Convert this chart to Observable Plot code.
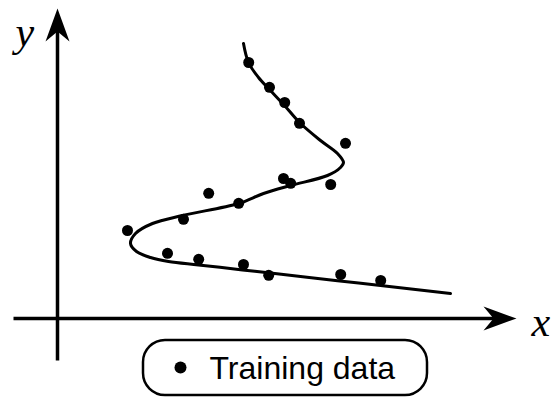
<!DOCTYPE html>
<html>
<head>
<meta charset="utf-8">
<script src="https://cdn.jsdelivr.net/npm/d3@7"></script>
<script src="https://cdn.jsdelivr.net/npm/@observablehq/plot@0.6"></script>
<style>
  body { margin: 0; background: #fff; }
</style>
</head>
<body>
<div id="chart"></div>
<script>
// Fitted curve (x as a multi-valued function of y), traced in order along the path
const curveX = [4.65, 4.775, 5.025, 5.3, 5.675, 6.05, 6.575, 7.0, 7.15, 7.075, 6.75, 5.825, 5.15, 4.525,
                3.125, 2.375, 1.95, 1.825, 1.975, 2.325, 2.775, 3.525, 4.625, 5.325, 7.0, 8.075, 9.825];
const curveY = [6.875, 6.4, 6.025, 5.725, 5.325, 4.9, 4.45, 4.125, 3.9, 3.775, 3.575, 3.325, 3.125, 2.875,
                2.575, 2.375, 2.125, 1.875, 1.675, 1.525, 1.425, 1.34, 1.215, 1.135, 0.945, 0.825, 0.625];

// Training data samples
const trainX = [4.78, 5.3, 5.68, 6.05, 7.2, 5.65, 5.83, 6.83, 3.78, 4.53, 3.15, 1.75, 2.75, 3.53, 4.65, 5.28, 7.08, 8.08];
const trainY = [6.4, 5.78, 5.4, 4.88, 4.38, 3.5, 3.38, 3.35, 3.13, 2.88, 2.48, 2.2, 1.63, 1.48, 1.35, 1.08, 1.1, 0.95];

// Axis extents and labels
const axisNames = ["x", "y"];
const xAxisExtent = [-1.1, 11.275];
const yAxisExtent = [-1.05, 7.55];
const legendLabel = "Training data";

const curve = curveX.map((x, i) => ({x, y: curveY[i]}));
const training = trainX.map((x, i) => ({x, y: trainY[i]}));

// Filled, notched arrowhead used at the end of both axes
function arrowHead(color) {
  const m = d3.create("svg:marker")
    .attr("viewBox", "-34 -13 36 26")
    .attr("markerWidth", 36)
    .attr("markerHeight", 26)
    .attr("markerUnits", "userSpaceOnUse")
    .attr("refX", -8)
    .attr("refY", 0)
    .attr("orient", "auto")
    .attr("overflow", "visible");
  m.append("path")
    .attr("d", "M0,0L-33,-12L-23,0L-33,12Z")
    .attr("fill", color)
    .attr("stroke", "none");
  return m.node();
}

// Legend box layout (data units)
const legend = {x1: 2.15, x2: 9.25, y1: -0.55, y2: -1.925, dotX: 3.075, dotY: -1.225, textX: 3.8, textY: -1.5};

const chart = Plot.plot({
  width: 552,
  height: 397,
  margin: 0,
  x: {domain: [-1.425, 12.375], axis: null},
  y: {domain: [-1.975, 7.95], axis: null},
  style: {background: "white", overflow: "visible"},
  marks: [
    // axes
    Plot.line([{x: xAxisExtent[0], y: 0}, {x: xAxisExtent[1], y: 0}],
      {x: "x", y: "y", stroke: "black", strokeWidth: 3.5, strokeLinecap: "butt", markerEnd: arrowHead}),
    Plot.line([{x: 0, y: yAxisExtent[0]}, {x: 0, y: yAxisExtent[1]}],
      {x: "x", y: "y", stroke: "black", strokeWidth: 3.5, strokeLinecap: "butt", markerEnd: arrowHead}),
    Plot.text([axisNames[0]], {x: 11.85, y: -0.425, text: d => d, textAnchor: "start", lineAnchor: "bottom",
      fontFamily: "Liberation Serif, Times New Roman, serif", fontStyle: "italic", fontSize: 42, fill: "black"}),
    Plot.text([axisNames[1]], {x: -1.05, y: 6.82, text: d => d, textAnchor: "start", lineAnchor: "bottom",
      fontFamily: "Liberation Serif, Times New Roman, serif", fontStyle: "italic", fontSize: 42, fill: "black"}),
    // fitted curve
    Plot.line(curve, {x: "x", y: "y", curve: "catmull-rom", stroke: "black", strokeWidth: 3}),
    // training points
    Plot.dot(training, {x: "x", y: "y", r: 5.5, fill: "black", stroke: "none"}),
    // legend
    Plot.rect([legend], {x1: "x1", x2: "x2", y1: "y1", y2: "y2", rx: 22, fill: "white", stroke: "black", strokeWidth: 2.5}),
    Plot.dot([legend], {x: "dotX", y: "dotY", r: 6, fill: "black", stroke: "none"}),
    Plot.text([legendLabel], {x: legend.textX, y: legend.textY, text: d => d, textAnchor: "start", lineAnchor: "bottom",
      fontFamily: "Liberation Sans, Arial, Helvetica, sans-serif", fontSize: 32, fill: "black"})
  ]
});

document.getElementById("chart").appendChild(chart);
</script>
</body>
</html>
